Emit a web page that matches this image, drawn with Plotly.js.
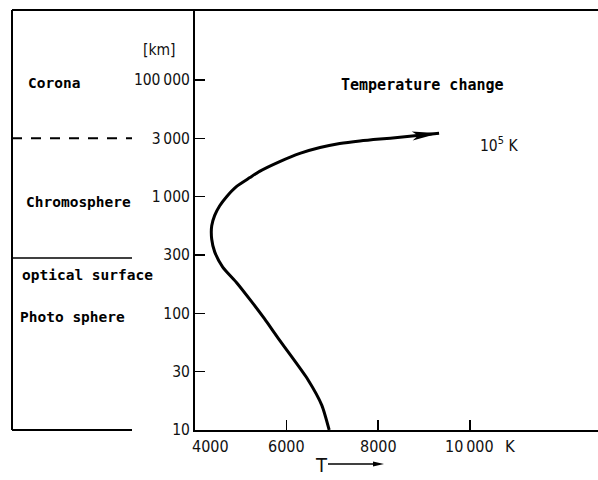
<!DOCTYPE html>
<html>
<head>
<meta charset="utf-8">
<script src="https://cdn.plot.ly/plotly-3.0.1.min.js"></script>
<style>html,body{margin:0;padding:0;background:#fff;}#chart{width:598px;height:480px;}</style>
</head>
<body>
<div id="chart"></div>
<script>
// ---- data ----
const heightTicks = [10, 30, 100, 300, 1000, 3000, 100000];          // km
const heightTickText = ['10', '30', '100', '300', '1\u2009000', '3\u2009000', '100\u2009000'];
const tempTicks = [4000, 6000, 8000, 10000];                         // K
const tempTickText = ['4000', '6000', '8000', '10\u2009000'];
// temperature profile: T (K) vs height (km)
const curveT = [6930, 6770, 6460, 6110, 5810, 5520, 5240, 4910, 4605, 4430, 4365, 4365, 4430, 4540, 4690, 4910, 5200, 5410, 5850, 6290, 6730, 7160, 7600, 8040, 8475, 9330];
const curveH = [10, 15.9, 26, 40.9, 60.3, 89, 124, 178, 239, 320, 415, 548, 680, 829, 1000, 1213, 1433, 1611, 1937, 2262, 2527, 2720, 2855, 2961, 3183, 4055];
const regionLabels = ['Corona', 'Chromosphere', 'optical surface', 'Photo sphere'];
const coronaBoundaryKm = 3000;
const surfaceBoundaryKm = 300;

// height (km) -> axis position (equal spacing between the broken-scale ticks)
function hpos(h) {
  const t = heightTicks;
  let i = 0;
  while (i < t.length - 2 && h > t[i + 1]) i++;
  return i + Math.log(h / t[i]) / Math.log(t[i + 1] / t[i]);
}

const W = 598, H = 480, ML = 195, MR = 0, MT = 10, MB = 50;
const plotW = W - ML - MR, plotH = H - MT - MB;
const xRange = [4000, 12800], yRange = [0, 7.2];
const px = x => (x - ML) / plotW;          // page px -> paper x
const py = y => (H - MB - y) / plotH;      // page px -> paper y

const labelFont = {family: 'DejaVu Sans Mono, monospace', size: 14.5, color: '#000', weight: 'bold'};
const tickFont = {family: 'Liberation Sans Narrow, DejaVu Sans Condensed, sans-serif', size: 15.5, color: '#111'};

const curveY = curveH.map(hpos);

const trace = {
  x: curveT, y: curveY, type: 'scatter', mode: 'lines',
  line: {color: '#000', width: 3, shape: 'spline', smoothing: 0.6},
  hoverinfo: 'skip', showlegend: false
};

// arrow head at the curve's end
const n = curveT.length;
const dxp = (curveT[n-1] - curveT[n-2]) * plotW / (xRange[1] - xRange[0]);
const dyp = (curveY[n-1] - curveY[n-2]) * plotH / (yRange[1] - yRange[0]);
const ang = Math.atan2(dyp, dxp), c = Math.cos(ang), s = Math.sin(ang);
const headPts = [[0, 0], [-27, 4.5], [-21, 0], [-27, -4.5]].map(([u, v]) => [u * c - v * s, u * s + v * c]);
const toPath = pts => 'M' + pts.map(p => p[0].toFixed(2) + ',' + p[1].toFixed(2)).join('L') + 'Z';

const regionX0 = px(12), regionX1 = px(132);
const shapes = [
  // top border
  {type: 'line', xref: 'paper', yref: 'paper', x0: regionX0, x1: 1, y0: 1, y1: 1, line: {color: '#000', width: 2}},
  // left border
  {type: 'line', xref: 'paper', yref: 'paper', x0: regionX0, x1: regionX0, y0: 0, y1: 1, line: {color: '#000', width: 2}},
  // bottom of the left panel
  {type: 'line', xref: 'paper', yref: 'paper', x0: regionX0, x1: regionX1, y0: 0, y1: 0, line: {color: '#000', width: 2}},
  // corona / chromosphere boundary (dashed)
  {type: 'line', xref: 'paper', yref: 'y', x0: regionX0, x1: regionX1, y0: hpos(coronaBoundaryKm), y1: hpos(coronaBoundaryKm), line: {color: '#000', width: 2, dash: '10px,9px'}},
  // optical surface
  {type: 'line', xref: 'paper', yref: 'y', x0: regionX0, x1: regionX1, y0: hpos(surfaceBoundaryKm) - 0.05, y1: hpos(surfaceBoundaryKm) - 0.05, line: {color: '#000', width: 1.5}},
  // arrow head of the curve
  {type: 'path', xref: 'x', yref: 'y', xsizemode: 'pixel', ysizemode: 'pixel', xanchor: curveT[n-1], yanchor: curveY[n-1], path: toPath(headPts), fillcolor: '#000', line: {width: 0}},
  // "T ->" arrow shaft and head
  {type: 'line', xref: 'paper', yref: 'paper', x0: px(328), x1: px(376), y0: py(464), y1: py(464), line: {color: '#000', width: 1.3}},
  {type: 'path', xref: 'paper', yref: 'paper', xsizemode: 'pixel', ysizemode: 'pixel', xanchor: px(384), yanchor: py(464), path: toPath([[0, 0], [-11, 2.6], [-11, -2.6]]), fillcolor: '#000', line: {width: 0}}
];

const regionPos = [[26, 83], [24, 202], [20, 275], [18, 317]];
const annotations = regionLabels.map((t, i) => ({
  text: t, xref: 'paper', yref: 'paper', x: px(regionPos[i][0]), y: py(regionPos[i][1]),
  xanchor: 'left', yanchor: 'middle', showarrow: false, font: labelFont
}));
annotations.push({text: 'Temperature change', xref: 'paper', yref: 'paper', x: px(339), y: py(85), xanchor: 'left', yanchor: 'middle', showarrow: false, font: {...labelFont, size: 15}});
annotations.push({text: '10<sup>5</sup> K', xref: 'paper', yref: 'paper', x: px(478), y: py(144), xanchor: 'left', yanchor: 'middle', showarrow: false, font: tickFont});
annotations.push({text: '[km]', xref: 'paper', yref: 'paper', x: px(141), y: py(50), xanchor: 'left', yanchor: 'middle', showarrow: false, font: tickFont});
annotations.push({text: 'K', xref: 'paper', yref: 'paper', x: px(503), y: py(446), xanchor: 'left', yanchor: 'middle', showarrow: false, font: {...tickFont, size: 16.5}});
annotations.push({text: 'T', xref: 'paper', yref: 'paper', x: px(313), y: py(465), xanchor: 'left', yanchor: 'middle', showarrow: false, font: {...tickFont, size: 20}});
tempTicks.forEach((v, i) => annotations.push({
  text: tempTickText[i], xref: 'x', yref: 'paper', x: v, y: py(446), xanchor: 'center', yanchor: 'middle',
  xshift: i === 0 ? 15 : 0, showarrow: false, font: {...tickFont, size: 16}
}));

const layout = {
  width: W, height: H,
  margin: {l: ML, r: MR, t: MT, b: MB, pad: 0},
  paper_bgcolor: '#fff', plot_bgcolor: '#fff',
  showlegend: false,
  xaxis: {
    range: xRange, showgrid: false, zeroline: false, showline: true, linecolor: '#000', linewidth: 2,
    tickvals: tempTicks, ticks: 'inside', ticklen: 10, tickwidth: 1.5, tickcolor: '#000', showticklabels: false
  },
  yaxis: {
    range: yRange, showgrid: false, zeroline: false, showline: true, linecolor: '#000', linewidth: 2,
    tickvals: heightTicks.map(hpos), ticktext: heightTickText, ticks: 'inside', ticklen: 10, tickwidth: 1.5,
    tickcolor: '#000', tickfont: tickFont
  },
  shapes: shapes,
  annotations: annotations
};

Plotly.newPlot('chart', [trace], layout, {staticPlot: true, displayModeBar: false});
</script>
</body>
</html>
